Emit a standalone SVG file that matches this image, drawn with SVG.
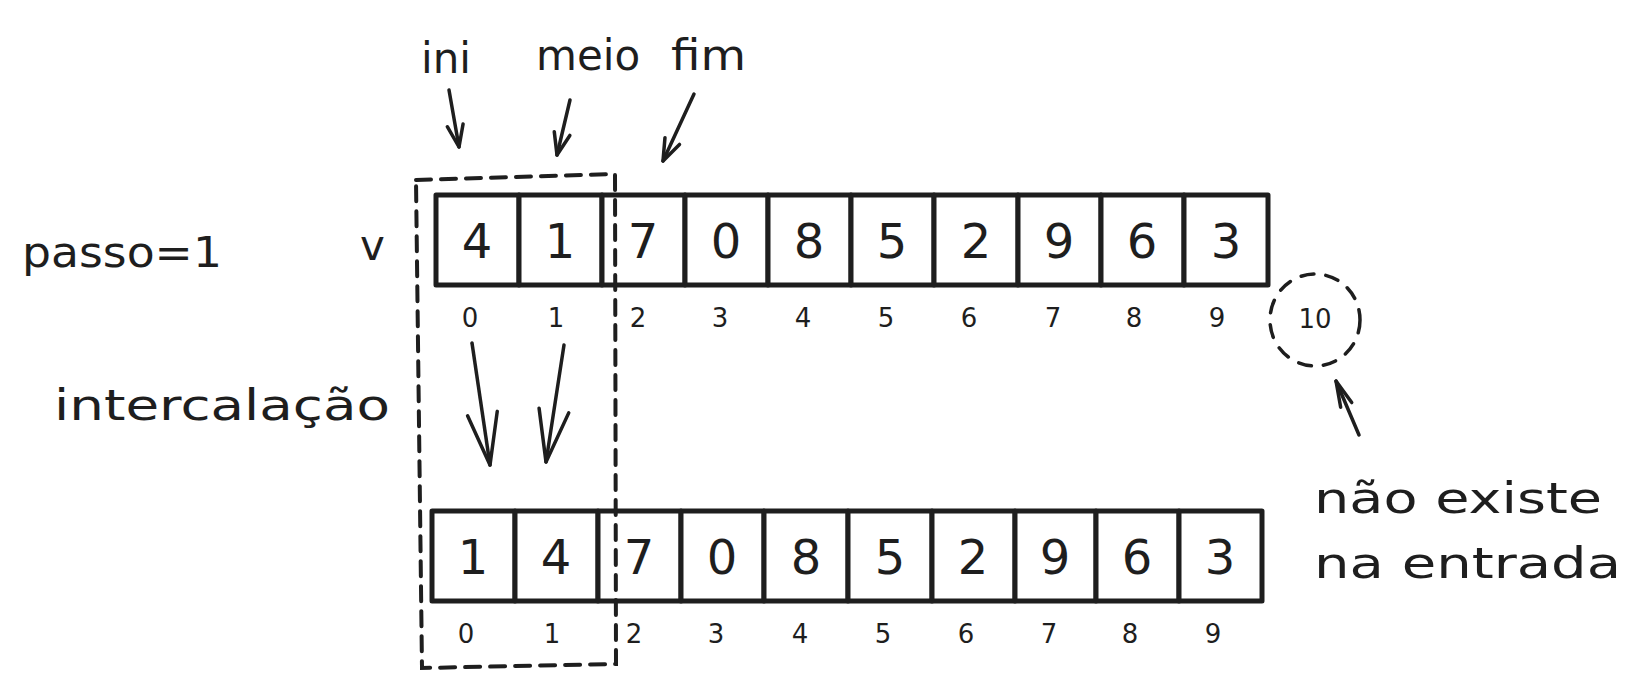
<svg xmlns="http://www.w3.org/2000/svg" width="1643" height="687" viewBox="0 0 1643 687">
<style>
.cell{fill:#fff;stroke:#1e1e1e;stroke-width:5;stroke-linejoin:round}
.dig{font-family:"DejaVu Sans",sans-serif;font-size:48px;fill:#1e1e1e;text-anchor:middle}
.idx{font-family:"DejaVu Sans",sans-serif;font-size:26px;fill:#1e1e1e;text-anchor:middle}
.lbl{font-family:"DejaVu Sans",sans-serif;font-size:42px;fill:#1e1e1e}
.arr{fill:none;stroke:#1e1e1e;stroke-width:3.5;stroke-linecap:round}
.dash{fill:none;stroke:#1e1e1e;stroke-width:4;stroke-dasharray:15 10;stroke-linecap:round}
</style>
<defs>
<marker id="hs" markerUnits="userSpaceOnUse" markerWidth="40" markerHeight="40" refX="0" refY="0" viewBox="-30 -20 40 40" orient="auto">
<path d="M-22 -8 L0 0 L-22 8" fill="none" stroke="#1e1e1e" stroke-width="3.5" stroke-linecap="round" stroke-linejoin="round"/>
</marker>
<marker id="hl" markerUnits="userSpaceOnUse" markerWidth="80" markerHeight="60" refX="0" refY="0" viewBox="-60 -30 70 60" orient="auto">
<path d="M-52 -15 L0 0 L-52 15" fill="none" stroke="#1e1e1e" stroke-width="3.5" stroke-linecap="round" stroke-linejoin="round"/>
</marker>
<marker id="hn" markerUnits="userSpaceOnUse" markerWidth="40" markerHeight="40" refX="0" refY="0" viewBox="-30 -20 40 40" orient="auto">
<path d="M-26 -6 L0 0 L-26 6" fill="none" stroke="#1e1e1e" stroke-width="3.5" stroke-linecap="round" stroke-linejoin="round"/>
</marker>
</defs>
<rect width="1643" height="687" fill="#fff"/>

<g id="labels">
<text class="lbl" x="22" y="267" font-size="36" textLength="200" lengthAdjust="spacingAndGlyphs">passo=1</text>
<text class="lbl" x="360" y="260">v</text>
<text class="lbl" x="421" y="73">ini</text>
<text class="lbl" x="536" y="70">meio</text>
<text class="lbl" x="671" y="70" textLength="75" lengthAdjust="spacingAndGlyphs">fim</text>
<text class="lbl" x="54" y="420" textLength="336" lengthAdjust="spacingAndGlyphs">intercalação</text>
<text class="lbl" x="1314" y="513" textLength="288" lengthAdjust="spacingAndGlyphs">não existe</text>
<text class="lbl" x="1314" y="578" textLength="307" lengthAdjust="spacingAndGlyphs">na entrada</text>
</g>

<g id="row-top">
<g id="t0"><rect class="cell" x="436" y="195" width="83" height="90"/><text class="dig" x="477" y="258">4</text></g>
<g id="t1"><rect class="cell" x="519" y="195" width="83" height="90"/><text class="dig" x="560" y="258">1</text></g>
<g id="t2"><rect class="cell" x="602" y="195" width="83" height="90"/><text class="dig" x="643" y="258">7</text></g>
<g id="t3"><rect class="cell" x="685" y="195" width="83" height="90"/><text class="dig" x="726" y="258">0</text></g>
<g id="t4"><rect class="cell" x="768" y="195" width="83" height="90"/><text class="dig" x="809" y="258">8</text></g>
<g id="t5"><rect class="cell" x="851" y="195" width="83" height="90"/><text class="dig" x="892" y="258">5</text></g>
<g id="t6"><rect class="cell" x="934" y="195" width="84" height="90"/><text class="dig" x="976" y="258">2</text></g>
<g id="t7"><rect class="cell" x="1018" y="195" width="83" height="90"/><text class="dig" x="1059" y="258">9</text></g>
<g id="t8"><rect class="cell" x="1101" y="195" width="83" height="90"/><text class="dig" x="1142" y="258">6</text></g>
<g id="t9"><rect class="cell" x="1184" y="195" width="84" height="90"/><text class="dig" x="1226" y="258">3</text></g>
</g>
<g id="idx-top">
<text class="idx" x="470" y="327">0</text>
<text class="idx" x="556" y="327">1</text>
<text class="idx" x="638" y="327">2</text>
<text class="idx" x="720" y="327">3</text>
<text class="idx" x="803" y="327">4</text>
<text class="idx" x="886" y="327">5</text>
<text class="idx" x="969" y="327">6</text>
<text class="idx" x="1053" y="327">7</text>
<text class="idx" x="1134" y="327">8</text>
<text class="idx" x="1217" y="327">9</text>
</g>

<g id="out-of-range">
<ellipse cx="1315" cy="320" rx="45" ry="46" fill="none" stroke="#1e1e1e" stroke-width="3.5" stroke-dasharray="13 12" stroke-linecap="round"/>
<text class="idx" x="1315" y="328">10</text>
</g>

<g id="row-bottom">
<g id="b0"><rect class="cell" x="432" y="511" width="83" height="90"/><text class="dig" x="473" y="574">1</text></g>
<g id="b1"><rect class="cell" x="515" y="511" width="83" height="90"/><text class="dig" x="556" y="574">4</text></g>
<g id="b2"><rect class="cell" x="598" y="511" width="83" height="90"/><text class="dig" x="639" y="574">7</text></g>
<g id="b3"><rect class="cell" x="681" y="511" width="83" height="90"/><text class="dig" x="722" y="574">0</text></g>
<g id="b4"><rect class="cell" x="764" y="511" width="84" height="90"/><text class="dig" x="806" y="574">8</text></g>
<g id="b5"><rect class="cell" x="848" y="511" width="84" height="90"/><text class="dig" x="890" y="574">5</text></g>
<g id="b6"><rect class="cell" x="932" y="511" width="83" height="90"/><text class="dig" x="973" y="574">2</text></g>
<g id="b7"><rect class="cell" x="1015" y="511" width="81" height="90"/><text class="dig" x="1055" y="574">9</text></g>
<g id="b8"><rect class="cell" x="1096" y="511" width="83" height="90"/><text class="dig" x="1137" y="574">6</text></g>
<g id="b9"><rect class="cell" x="1179" y="511" width="83" height="90"/><text class="dig" x="1220" y="574">3</text></g>
</g>
<g id="idx-bottom">
<text class="idx" x="466" y="643">0</text>
<text class="idx" x="552" y="643">1</text>
<text class="idx" x="634" y="643">2</text>
<text class="idx" x="716" y="643">3</text>
<text class="idx" x="800" y="643">4</text>
<text class="idx" x="883" y="643">5</text>
<text class="idx" x="966" y="643">6</text>
<text class="idx" x="1049" y="643">7</text>
<text class="idx" x="1130" y="643">8</text>
<text class="idx" x="1213" y="643">9</text>
</g>

<g id="selection">
<path class="dash" d="M416 180 L615 174 L616 664 L422 668 Z"/>
</g>

<g id="connectors">
<path class="arr" d="M449 90 L459 147" marker-end="url(#hs)"/>
<path class="arr" d="M570 100 L557 155" marker-end="url(#hs)"/>
<path class="arr" d="M694 94 L663 161" marker-end="url(#hs)"/>
<path class="arr" d="M472 343 L490 465" marker-end="url(#hl)"/>
<path class="arr" d="M564 345 L546 462" marker-end="url(#hl)"/>
<path class="arr" d="M1359 435 L1336 381" marker-end="url(#hn)"/>
</g>
</svg>
